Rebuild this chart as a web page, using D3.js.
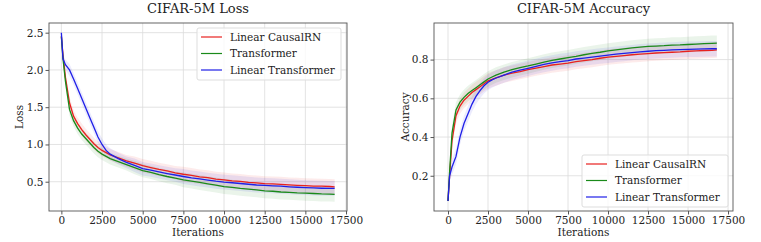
<!DOCTYPE html>
<html>
<head>
  <meta charset="utf-8">
  <script src="https://d3js.org/d3.v7.min.js"></script>
  <style>
    body { margin: 0; background: #fff; }
    text { font-family: "DejaVu Serif", serif; fill: #222; }
  </style>
</head>
<body>
<script>
// iterations
var iters = [0,100,250,500,750,1000,1250,1500,1750,2000,2250,2500,2750,3000,3500,4000,4500,5000,5500,6000,6500,7000,
             7500,8000,8500,9000,9500,10000,10500,11000,11500,12000,12500,13000,13500,14000,14500,15000,15500,16000,16500,16800];

var seriesNames = ["Linear CausalRN", "Transformer", "Linear Transformer"];
var seriesColors = ["#e8211f", "#1a8a1a", "#1f1fe8"];

// loss curves
var lossCausal = [2.45,2.2,1.9,1.56,1.38,1.28,1.2,1.13,1.07,1.01,0.96,0.92,0.89,0.86,0.82,0.78,0.75,0.715,0.69,0.665,0.645,0.62,
                  0.60,0.585,0.565,0.555,0.535,0.525,0.51,0.505,0.49,0.485,0.475,0.47,0.465,0.458,0.452,0.447,0.442,0.44,0.436,0.432];
var lossTrans  = [2.45,2.15,1.85,1.47,1.32,1.22,1.14,1.08,1.02,0.96,0.91,0.87,0.84,0.81,0.77,0.73,0.69,0.65,0.625,0.595,0.57,0.548,
                  0.525,0.508,0.49,0.472,0.455,0.435,0.425,0.41,0.4,0.39,0.378,0.372,0.362,0.357,0.35,0.346,0.342,0.336,0.333,0.33];
var lossLinTr  = [2.5,2.15,2.07,2.0,1.88,1.75,1.62,1.49,1.36,1.23,1.1,1.0,0.92,0.87,0.81,0.76,0.72,0.675,0.655,0.632,0.61,0.59,
                  0.57,0.552,0.537,0.522,0.507,0.495,0.486,0.476,0.466,0.456,0.451,0.445,0.44,0.432,0.426,0.421,0.416,0.412,0.41,0.41];
var lossSpread = [0.02,0.05,0.07,0.08,0.08,0.08,0.08,0.08,0.08,0.08,0.08,0.08,0.08,0.08,0.08,0.08,0.09,0.09,0.09,0.09,0.09,0.09,
                  0.1,0.1,0.1,0.1,0.1,0.1,0.1,0.1,0.1,0.1,0.1,0.1,0.1,0.1,0.1,0.1,0.1,0.1,0.1,0.1];

// accuracy curves
var accCausal = [0.07,0.2,0.38,0.51,0.56,0.59,0.61,0.63,0.645,0.66,0.675,0.69,0.698,0.705,0.72,0.73,0.738,0.748,0.756,0.764,0.772,0.777,
                 0.782,0.79,0.795,0.80,0.807,0.813,0.817,0.821,0.825,0.828,0.831,0.834,0.836,0.838,0.84,0.843,0.845,0.847,0.848,0.85];
var accTrans  = [0.07,0.22,0.42,0.54,0.58,0.605,0.625,0.64,0.655,0.67,0.685,0.70,0.71,0.72,0.735,0.748,0.758,0.767,0.777,0.787,0.796,0.803,
                 0.81,0.817,0.825,0.832,0.838,0.845,0.85,0.855,0.86,0.864,0.868,0.87,0.872,0.875,0.876,0.878,0.88,0.882,0.884,0.885];
var accLinTr  = [0.07,0.2,0.245,0.3,0.4,0.47,0.52,0.57,0.61,0.64,0.665,0.683,0.695,0.705,0.72,0.735,0.745,0.755,0.765,0.775,0.783,0.79,
                 0.795,0.803,0.808,0.813,0.818,0.823,0.828,0.832,0.836,0.84,0.843,0.846,0.848,0.85,0.852,0.853,0.854,0.855,0.856,0.856];
var accSpread = [0.01,0.03,0.04,0.04,0.04,0.04,0.04,0.04,0.04,0.04,0.04,0.04,0.04,0.04,0.04,0.04,0.04,0.04,0.04,0.04,0.04,0.04,
                 0.04,0.04,0.04,0.04,0.04,0.04,0.04,0.04,0.04,0.04,0.04,0.04,0.04,0.04,0.04,0.04,0.04,0.04,0.04,0.04];

var xTicks = [0,2500,5000,7500,10000,12500,15000,17500];
var lossTicks = [0.5,1.0,1.5,2.0,2.5];
var accTicks = [0.2,0.4,0.6,0.8];

var W = 761, H = 242;
var svg = d3.select("body").append("svg").attr("width", W).attr("height", H);

function panel(opt) {
  var x = d3.scaleLinear().domain(opt.xDomain).range([opt.left, opt.right]);
  var y = d3.scaleLinear().domain(opt.yDomain).range([opt.bottom, opt.top]);
  var g = svg.append("g");

  // grid
  g.selectAll(".gx").data(xTicks).enter().append("line")
    .attr("x1", d => x(d)).attr("x2", d => x(d))
    .attr("y1", opt.top).attr("y2", opt.bottom)
    .attr("stroke", "#dcdcdc").attr("stroke-width", 0.8);
  g.selectAll(".gy").data(opt.yTicks).enter().append("line")
    .attr("x1", opt.left).attr("x2", opt.right)
    .attr("y1", d => y(d)).attr("y2", d => y(d))
    .attr("stroke", "#dcdcdc").attr("stroke-width", 0.8);

  // bands then lines
  opt.series.forEach(function(vals, i) {
    var area = d3.area()
      .x((d, j) => x(iters[j]))
      .y0((d, j) => y(d - opt.spread[j]))
      .y1((d, j) => y(d + opt.spread[j]));
    g.append("path").datum(vals).attr("d", area)
      .attr("fill", seriesColors[i]).attr("fill-opacity", 0.09);
  });
  opt.series.forEach(function(vals, i) {
    var line = d3.line().x((d, j) => x(iters[j])).y(d => y(d));
    g.append("path").datum(vals).attr("d", line)
      .attr("fill", "none").attr("stroke", seriesColors[i]).attr("stroke-width", 1.3);
  });

  // frame
  g.append("rect").attr("x", opt.left).attr("y", opt.top)
    .attr("width", opt.right - opt.left).attr("height", opt.bottom - opt.top)
    .attr("fill", "none").attr("stroke", "#555").attr("stroke-width", 0.9);

  // axes
  var xa = g.append("g").attr("transform", "translate(0," + opt.bottom + ")")
    .call(d3.axisBottom(x).tickValues(xTicks).tickSize(3.5).tickPadding(2).tickFormat(d3.format("d")));
  var ya = g.append("g").attr("transform", "translate(" + opt.left + ",0)")
    .call(d3.axisLeft(y).tickValues(opt.yTicks).tickSize(3.5).tickPadding(2).tickFormat(d3.format(".1f")));
  [xa, ya].forEach(function(a) {
    a.select(".domain").remove();
    a.selectAll("line").attr("stroke", "#555");
    a.selectAll("text").attr("font-family", "DejaVu Serif").attr("font-size", "10.5px").attr("fill", "#222");
  });

  // labels
  var cx = (opt.left + opt.right) / 2;
  g.append("text").attr("x", cx).attr("y", 13).attr("text-anchor", "middle")
    .attr("font-size", "13px").text(opt.title);
  g.append("text").attr("x", cx).attr("y", 236).attr("text-anchor", "middle")
    .attr("font-size", "10.5px").text("Iterations");
  g.append("text").attr("transform", "translate(" + opt.yLabelX + "," + ((opt.top + opt.bottom) / 2) + ") rotate(-90)")
    .attr("text-anchor", "middle").attr("font-size", "10.5px").text(opt.yLabel);

  // legend
  var lg = g.append("g").attr("transform", "translate(" + opt.legX + "," + opt.legY + ")");
  lg.append("rect").attr("width", opt.legW).attr("height", 52).attr("rx", 2)
    .attr("fill", "#fff").attr("fill-opacity", 0.8).attr("stroke", "#ddd");
  seriesNames.forEach(function(name, i) {
    var yy = 9 + i * 16.5;
    lg.append("line").attr("x1", 4).attr("x2", 25).attr("y1", yy).attr("y2", yy)
      .attr("stroke", seriesColors[i]).attr("stroke-width", 1.2);
    lg.append("text").attr("x", 33).attr("y", yy + 3.8).attr("font-size", "10.5px").text(name);
  });
}

panel({
  left: 49, right: 347, top: 23, bottom: 211,
  xDomain: [-760, 17560], yDomain: [0.107, 2.63], yTicks: lossTicks,
  series: [lossCausal, lossTrans, lossLinTr], spread: lossSpread,
  title: "CIFAR-5M Loss", yLabel: "Loss", yLabelX: 23,
  legX: 197, legY: 28, legW: 144
});

panel({
  left: 434, right: 733, top: 23, bottom: 211,
  xDomain: [-875, 17810], yDomain: [0.018, 0.989], yTicks: accTicks,
  series: [accCausal, accTrans, accLinTr], spread: accSpread,
  title: "CIFAR-5M Accuracy", yLabel: "Accuracy", yLabelX: 409,
  legX: 582, legY: 155, legW: 146
});
</script>
</body>
</html>
